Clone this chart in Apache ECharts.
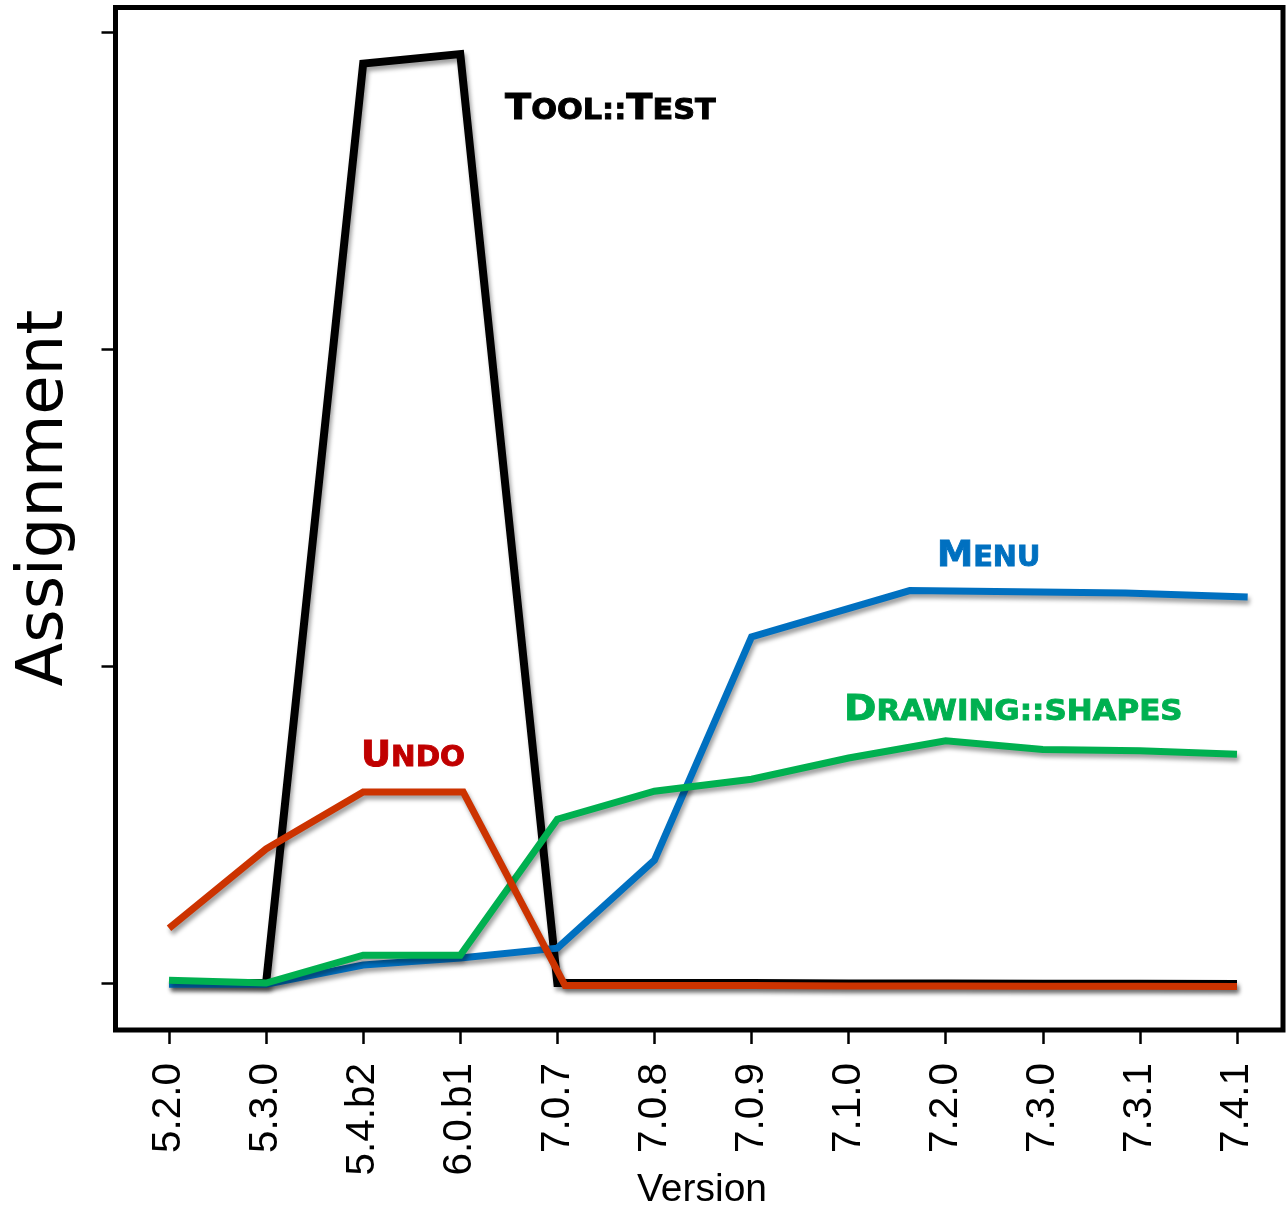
<!DOCTYPE html>
<html>
<head>
<meta charset="utf-8">
<script src="https://cdn.jsdelivr.net/npm/echarts@6/dist/echarts.min.js"></script>
<style>
  html, body { margin: 0; padding: 0; background: #fff; }
  #chart { width: 1287px; height: 1214px; }
</style>
</head>
<body>
<div id="chart"></div>
<script>
// ---- data ----
const versions = ['5.2.0', '5.3.0', '5.4.b2', '6.0.b1', '7.0.7', '7.0.8', '7.0.9', '7.1.0', '7.2.0', '7.3.0', '7.3.1', '7.4.1'];
const versionTicks = [0, 1, 2, 3, 4, 5, 6, 7, 8, 9, 10, 11];
const yTicks = [0, 1, 2, 3];

// [version index, assignment]
const toolTest = [[0, 0], [1, 0], [2, 2.90], [3, 2.93], [4, 0.0], [5, 0.0], [6, 0.0], [7, -0.001], [8, -0.001], [9, -0.002], [10, -0.002], [11, -0.003]];
const menu = [[0, -0.004], [1, -0.004], [2, 0.057], [3, 0.079], [4, 0.110], [5, 0.388], [6, 1.092], [7.63, 1.238], [9.85, 1.230], [11.11, 1.218]];
const drawingShapes = [[0, 0.009], [1, 0.0], [2, 0.088], [3, 0.088], [4, 0.517], [5, 0.605], [6, 0.643], [7, 0.710], [8, 0.764], [9, 0.737], [10, 0.733], [11, 0.722]];
const undo = [[0, 0.173], [1, 0.423], [2, 0.603], [3.03, 0.603], [4.08, -0.008], [5, -0.008], [6, -0.008], [7, -0.009], [8, -0.009], [9, -0.010], [10, -0.010], [11, -0.011]];

const chart = echarts.init(document.getElementById('chart'), null, { renderer: 'canvas' });

const shadow = { shadowColor: 'rgba(0,0,0,0.38)', shadowBlur: 4, shadowOffsetX: 2, shadowOffsetY: 4 };
function lineSeries(name, data, color, width) {
  return {
    name: name, type: 'line', data: data, showSymbol: false, symbol: 'none',
    animation: false,
    lineStyle: Object.assign({ color: color, width: width, join: 'miter', miterLimit: 20, cap: 'butt' }, shadow)
  };
}

function capsLabel(id, x, y, parts, color, sx) {
  let txt = '';
  for (const part of parts) txt += part[0] === 'b' ? '{b|' + part[1] + '}' : '{s|' + part[1] + '}';
  return {
    type: 'text', id: id, x: x, y: y, scaleX: sx, scaleY: 1, originX: 0, originY: 0, z: 100,
    style: {
      text: txt, fill: color, align: 'left', verticalAlign: 'bottom',
      rich: {
        b: { fontFamily: 'DejaVu Sans', fontWeight: 'bold', fontSize: 36, fill: color, color: color, stroke: color, lineWidth: 0.9, verticalAlign: 'bottom', lineHeight: 40 },
        s: { fontFamily: 'DejaVu Sans', fontWeight: 'bold', fontSize: 28.5, fill: color, color: color, stroke: color, lineWidth: 0.9, verticalAlign: 'bottom', lineHeight: 40, padding: [0, 0, 2, 0] }
      }
    }
  };
}

const option = {
  backgroundColor: '#ffffff',
  animation: false,
  grid: {
    left: 115.5, top: 7.5, right: 4, bottom: 184,
    show: true, borderColor: '#000', borderWidth: 5, backgroundColor: 'transparent',
    outerBoundsMode: 'none'
  },
  xAxis: {
    type: 'value', min: -0.551, max: 11.474, position: 'bottom',
    axisLine: { show: false, onZero: false },
    splitLine: { show: false },
    axisTick: { show: true, inside: false, customValues: versionTicks, length: 14, lineStyle: { color: '#000', width: 2.5 } },
    axisLabel: {
      show: true, customValues: versionTicks, rotate: 90, margin: 33,
      fontFamily: 'Liberation Sans', fontSize: 40.5, color: '#000',
      formatter: function (v) { return versions[Math.round(v)]; }
    }
  },
  yAxis: {
    type: 'value', min: -0.148, max: 3.077, position: 'left',
    axisLine: { show: false, onZero: false },
    splitLine: { show: false },
    axisTick: { show: true, inside: false, customValues: yTicks, length: 14, lineStyle: { color: '#000', width: 2.5 } },
    axisLabel: { show: false }
  },
  series: [
    lineSeries('Tool::Test', toolTest, '#000000', 8),
    lineSeries('Menu', menu, '#0070c0', 7),
    lineSeries('Drawing::shapes', drawingShapes, '#00b050', 7),
    lineSeries('Undo', undo, '#cc3300', 7)
  ],
  graphic: [
    {
      type: 'text', x: 45, y: 498, rotation: Math.PI / 2,
      style: { text: 'Assignment', fontFamily: 'DejaVu Sans', fontSize: 64, fill: '#000', align: 'center', verticalAlign: 'middle' }
    },
    {
      type: 'text', x: 702, y: 1190,
      style: { text: 'Version', fontFamily: 'Liberation Sans', fontSize: 39, fill: '#000', align: 'center', verticalAlign: 'middle' }
    },
    capsLabel('t1', 505, 128, [['b', 'T'], ['s', 'OOL::'], ['b', 'T'], ['s', 'EST']], '#000000', 1.065),
    capsLabel('t2', 937, 575, [['b', 'M'], ['s', 'ENU']], '#0070c0', 1.01),
    capsLabel('t3', 844, 729, [['b', 'D'], ['s', 'RAWING::SHAPES']], '#00b050', 1.085),
    capsLabel('t4', 361, 775, [['b', 'U'], ['s', 'NDO']], '#c00000', 1.03)
  ]
};
chart.setOption(option);
</script>
</body>
</html>
